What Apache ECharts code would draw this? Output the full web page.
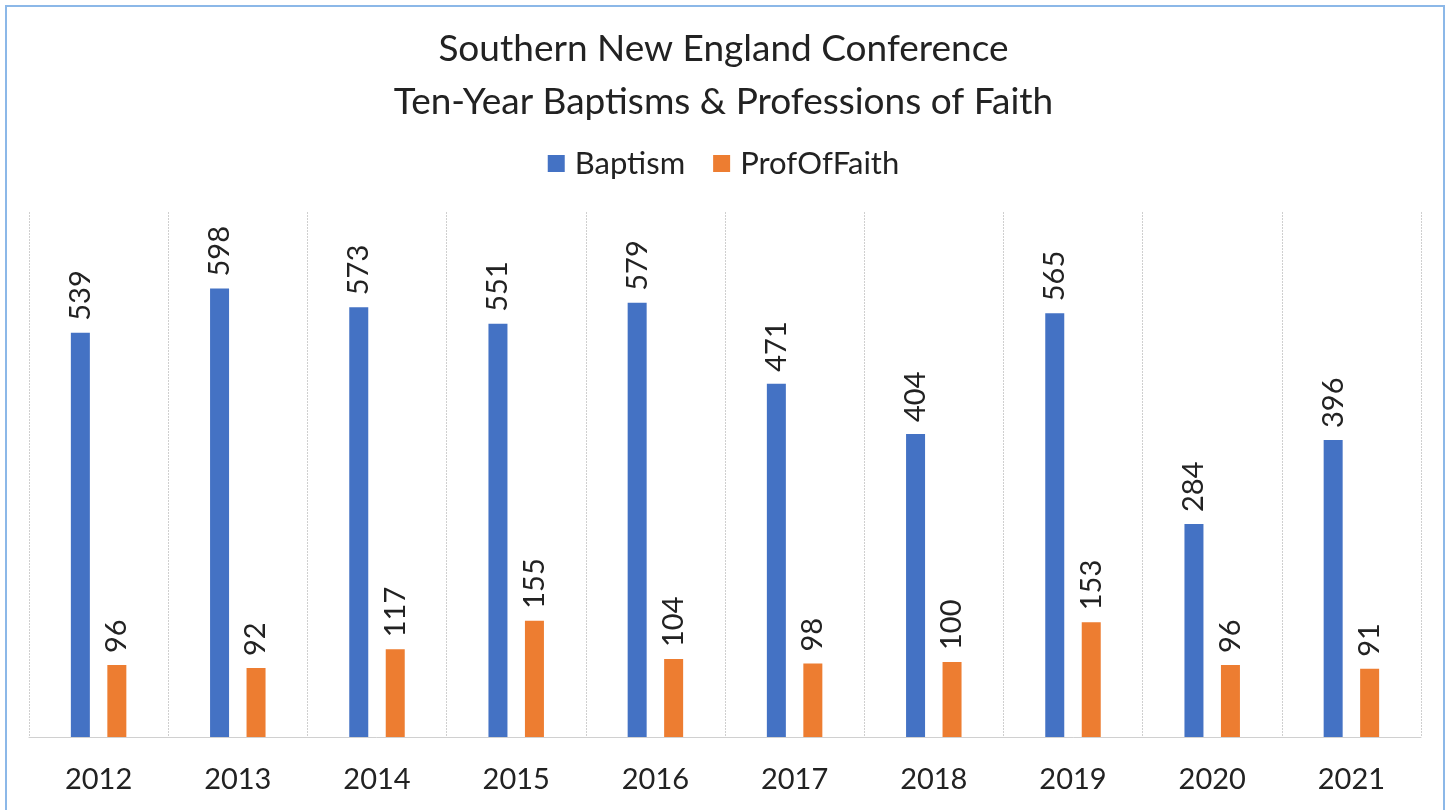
<!DOCTYPE html>
<html>
<head>
<meta charset="utf-8">
<script src="https://cdn.jsdelivr.net/npm/echarts@6/dist/echarts.min.js"></script>
<style>
html, body { margin: 0; padding: 0; background: #fff; }
#chart { width: 1447px; height: 810px; }
</style>
</head>
<body>
<div id="chart"></div>
<script>
var years = ['2012', '2013', '2014', '2015', '2016', '2017', '2018', '2019', '2020', '2021'];
var baptism = [539, 598, 573, 551, 579, 471, 404, 565, 284, 396];
var profOfFaith = [96, 92, 117, 155, 104, 98, 100, 153, 96, 91];

var font = 'Lato, "Open Sans", sans-serif';
var myChart = echarts.init(document.getElementById('chart'));

//数值标签，竖排
var barLabel = {
	show: true,
	position: 'top',
	rotate: 90,
	align: 'left',
	verticalAlign: 'middle',
	distance: 12,
	fontFamily: font,
	fontSize: 29,
	color: '#222'
};

myChart.setOption({
	animation: false,
	title: {
		text: 'Southern New England Conference\nTen-Year Baptisms & Professions of Faith',
		left: 'center',
		top: 18,
		textStyle: {
			fontFamily: font,
			fontSize: 37,
			fontWeight: 'normal',
			color: '#222',
			lineHeight: 53
		}
	},
	legend: {
		top: 143,
		left: 'center',
		itemWidth: 17,
		itemHeight: 17,
		itemGap: 28,
		icon: 'rect',
		textStyle: {
			fontFamily: font,
			fontSize: 31,
			color: '#222',
			padding: [0, 0, 0, 5]
		},
		data: ['Baptism', 'ProfOfFaith']
	},
	graphic: [{
		type: 'rect',
		shape: { x: 6, y: 6, width: 1438, height: 820 },
		style: { fill: null, stroke: '#8cb8e8', lineWidth: 2 },
		silent: true
	}],
	grid: {
		left: 29,
		right: 26,
		top: 212,
		bottom: 73,
		containLabel: false
	},
	xAxis: {
		type: 'category',
		data: years,
		axisLine: { show: true, lineStyle: { color: '#d0d0d0', width: 1 } },
		axisTick: { show: false },
		splitLine: { show: true, lineStyle: { color: '#cfcfcf', type: [2, 1] } },
		axisLabel: {
			margin: 28,
			fontFamily: font,
			fontSize: 29,
			color: '#222'
		}
	},
	yAxis: {
		type: 'value',
		min: 0,
		max: 700,
		show: false,
		splitLine: { show: false }
	},
	series: [{
		name: 'Baptism',
		type: 'bar',
		data: baptism,
		barWidth: 19,
		barGap: '92%',
		itemStyle: { color: '#4472c4' },
		label: barLabel
	}, {
		name: 'ProfOfFaith',
		type: 'bar',
		data: profOfFaith,
		barWidth: 19,
		itemStyle: { color: '#ed7d31' },
		label: barLabel
	}]
});
</script>
</body>
</html>
